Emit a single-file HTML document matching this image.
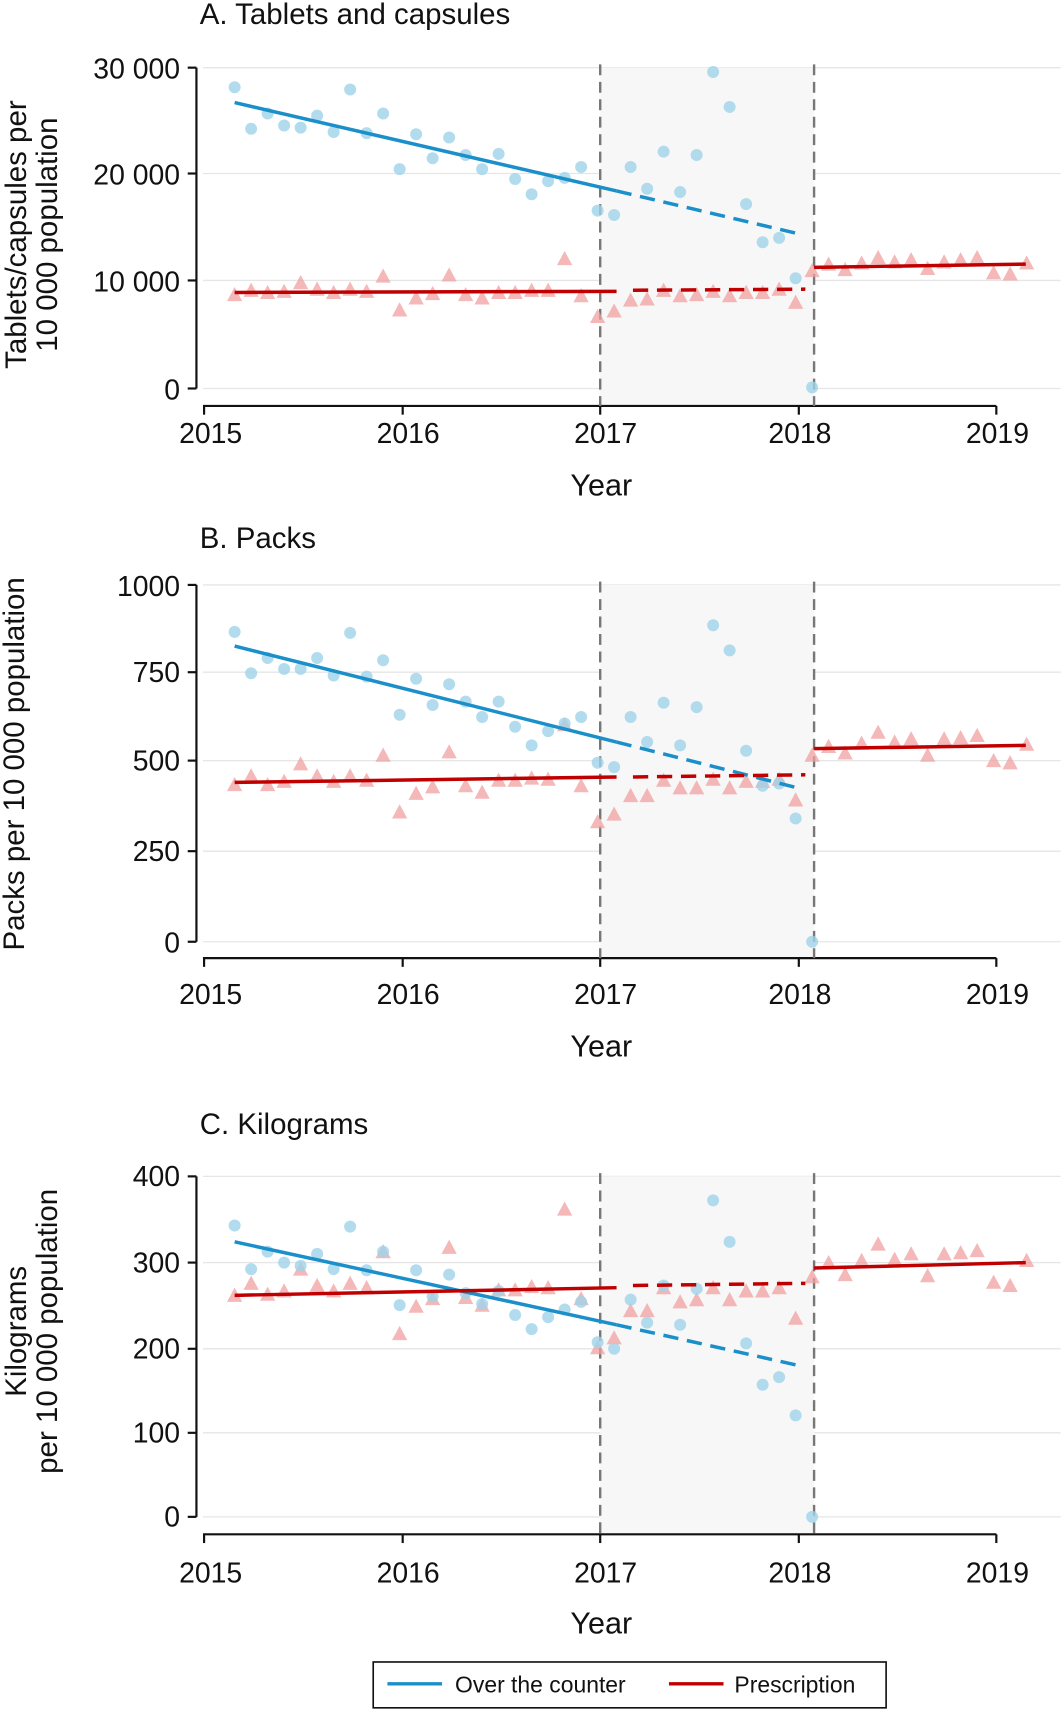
<!DOCTYPE html>
<html><head><meta charset="utf-8"><style>
html,body{margin:0;padding:0;background:#fff;}
svg{display:block;}
text{font-family:"Liberation Sans",sans-serif;fill:#111;}
</style></head><body>
<svg id="s" width="1064" height="1710" viewBox="0 0 975 1567" xmlns="http://www.w3.org/2000/svg">
<g id="bg"></g>
<!-- Titles -->
<text x="183" y="22" font-size="27">A. Tablets and capsules</text>
<text x="183" y="502" font-size="27">B. Packs</text>
<text x="183" y="1039" font-size="27">C. Kilograms</text>
<!-- Y titles -->
<text transform="translate(24,215) rotate(-90)" font-size="27" text-anchor="middle">Tablets/capsules per</text>
<text transform="translate(52,215) rotate(-90)" font-size="27" text-anchor="middle">10 000 population</text>
<text transform="translate(22,700) rotate(-90)" font-size="27" text-anchor="middle">Packs per 10 000 population</text>
<text transform="translate(24,1220) rotate(-90)" font-size="27" text-anchor="middle">Kilograms</text>
<text transform="translate(52,1220) rotate(-90)" font-size="27" text-anchor="middle">per 10 000 population</text>
<!-- Y tick labels -->
<g font-size="26" text-anchor="end">
<text x="165" y="72">30 000</text><text x="165" y="169">20 000</text><text x="165" y="267">10 000</text><text x="165" y="366">0</text>
<text x="165" y="546">1000</text><text x="165" y="625">750</text><text x="165" y="706">500</text><text x="165" y="789">250</text><text x="165" y="873">0</text>
<text x="165" y="1087">400</text><text x="165" y="1166">300</text><text x="165" y="1245">200</text><text x="165" y="1322">100</text><text x="165" y="1399">0</text>
</g>
<!-- X tick labels -->
<g font-size="26" text-anchor="middle">
<text x="193" y="406">2015</text><text x="374" y="406">2016</text><text x="555" y="406">2017</text><text x="733" y="406">2018</text><text x="914" y="406">2019</text>
<text x="193" y="920">2015</text><text x="374" y="920">2016</text><text x="555" y="920">2017</text><text x="733" y="920">2018</text><text x="914" y="920">2019</text>
<text x="193" y="1450">2015</text><text x="374" y="1450">2016</text><text x="555" y="1450">2017</text><text x="733" y="1450">2018</text><text x="914" y="1450">2019</text>
<text x="551" y="454" font-size="28">Year</text><text x="551" y="968" font-size="28">Year</text><text x="551" y="1497" font-size="28">Year</text>
</g>
<g id="fg"></g>
<!-- Legend -->
<rect x="342" y="1523" width="470" height="42" fill="#fff" stroke="#111" stroke-width="1.5"/>
<line x1="355" y1="1543" x2="405" y2="1543" stroke="#1a8fc9" stroke-width="3"/>
<text x="417" y="1551" font-size="21">Over the counter</text>
<line x1="613" y1="1543" x2="663" y2="1543" stroke="#c00000" stroke-width="3"/>
<text x="673" y="1551" font-size="21">Prescription</text>
</svg>
<script>
var NS="http://www.w3.org/2000/svg";
function el(p,t,a){var e=document.createElementNS(NS,t);for(var k in a)e.setAttribute(k,a[k]);p.appendChild(e);return e;}
var bg=document.getElementById('bg'),fg=document.getElementById('fg');
var xs=[];for(var i=0;i<49;i++)xs.push(215+i*15.12);
var P=[
{ticks:[62,159,257,356],top:62,ax:372,
b:[80,118,104,115,117,106,121,82,122,104,155,123,145,126,142,155,141,164,178,166,163,153,193,197,153,173,139,176,142,66,98,187,222,218,255,355],
bt:[[215,94,565,175],[565,175,735,215]],
r:[270,266,268,267,259,265,268,265,267,253,284,273,269,252,270,273,268,268,266,266,237,271,290,285,275,274,266,271,270,267,271,268,268,265,277,248,242,247,241,236,240,238,246,240,238,236,250,251,241],
rt:[[215,268,565,267],[580,266,738,265],[746,245,940,242]]},
{ticks:[536,616,697,780,863],top:536,ax:878,
b:[579,617,603,613,613,603,619,580,620,605,655,622,646,627,643,657,643,666,683,670,663,657,699,703,657,680,644,683,648,573,596,688,720,718,750,863],
bt:[[215,592,565,680],[565,680,735,723]],
r:[719,711,719,716,700,711,716,711,715,692,744,727,721,689,720,726,715,715,713,714,664,720,753,746,729,729,715,722,722,714,722,716,716,714,733,692,684,690,681,671,680,677,692,677,676,674,697,699,682],
rt:[[215,717,565,712],[580,712,738,710],[746,686,940,683]]},
{ticks:[1078,1157,1236,1313,1390],top:1078,ax:1406,
b:[1123,1163,1147,1157,1160,1149,1163,1124,1164,1147,1196,1164,1188,1168,1185,1195,1183,1205,1218,1207,1200,1193,1230,1236,1191,1212,1178,1214,1181,1100,1138,1231,1269,1262,1297,1390],
bt:[[215,1138,565,1214],[565,1214,735,1252]],
r:[1187,1176,1186,1183,1163,1178,1183,1176,1180,1147,1222,1197,1190,1143,1189,1196,1182,1182,1179,1180,1108,1190,1235,1226,1201,1201,1180,1193,1191,1180,1191,1183,1183,1180,1208,1170,1157,1168,1155,1140,1154,1149,1169,1149,1148,1146,1175,1178,1155],
rt:[[215,1187,565,1180],[580,1178,738,1176],[746,1162,940,1157]]}];
P.forEach(function(p){
 p.ticks.forEach(function(y){
  el(bg,'line',{x1:186,x2:972,y1:y,y2:y,stroke:'#e6e6e6','stroke-width':1.2});
  el(bg,'line',{x1:172,x2:180,y1:y,y2:y,stroke:'#111','stroke-width':2});
 });
 el(bg,'rect',{x:550,y:p.top,width:196,height:p.ax-p.top,fill:'#f7f7f7'});
 el(bg,'line',{x1:180,x2:180,y1:p.top,y2:p.ticks[p.ticks.length-1],stroke:'#111','stroke-width':2});
 el(bg,'line',{x1:186,x2:913,y1:p.ax,y2:p.ax,stroke:'#111','stroke-width':2});
 [187,369,550,732,913].forEach(function(x){el(bg,'line',{x1:x,x2:x,y1:p.ax,y2:p.ax+8,stroke:'#111','stroke-width':2});});
 [550,746].forEach(function(x){el(bg,'line',{x1:x,x2:x,y1:p.top-3,y2:p.ax,stroke:'#777','stroke-width':2.2,'stroke-dasharray':'10,6'});});
 p.r.forEach(function(y,i){var x=xs[i];el(fg,'polygon',{points:(x-7)+','+(y+6)+' '+(x+7)+','+(y+6)+' '+x+','+(y-7),fill:'#f0a0a0','fill-opacity':0.75});});
 p.b.forEach(function(y,i){el(fg,'circle',{cx:xs[i],cy:y,r:5.5,fill:'#9fd3ea','fill-opacity':0.8});});
 p.bt.forEach(function(l,i){var a={x1:l[0],y1:l[1],x2:l[2],y2:l[3],stroke:'#1a8fc9','stroke-width':3.2};if(i==1)a['stroke-dasharray']='14,8';el(fg,'line',a);});
 p.rt.forEach(function(l,i){var a={x1:l[0],y1:l[1],x2:l[2],y2:l[3],stroke:'#c00000','stroke-width':3.2};if(i==1)a['stroke-dasharray']='14,8';el(fg,'line',a);});
});
</script>
</body></html>
